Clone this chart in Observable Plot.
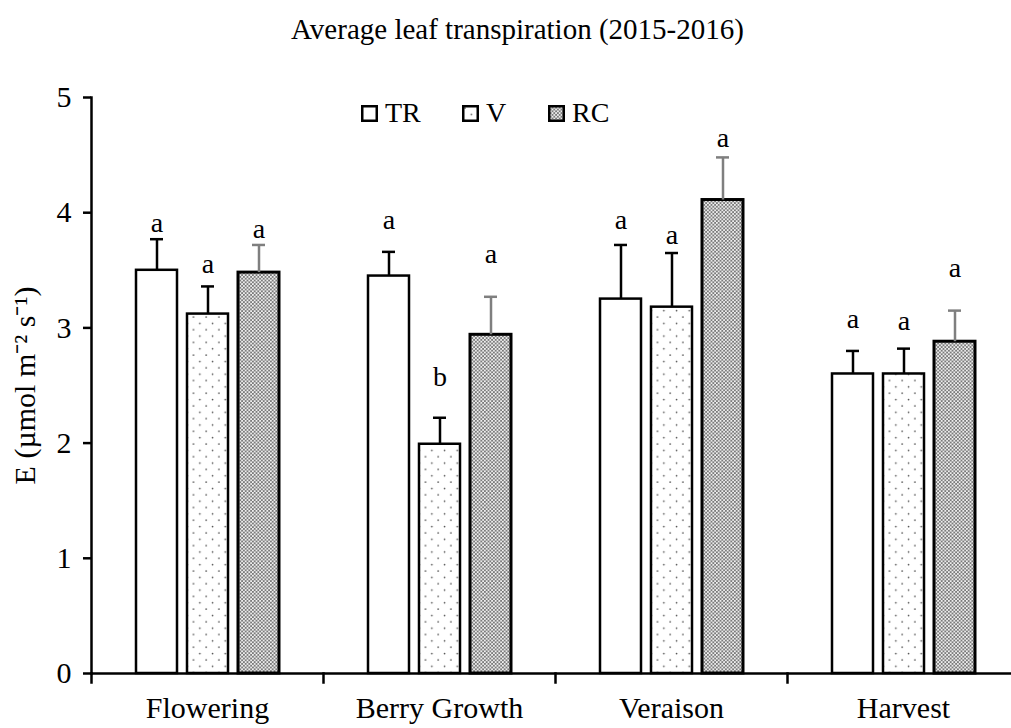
<!DOCTYPE html>
<html>
<head>
<meta charset="utf-8">
<script src="https://cdn.jsdelivr.net/npm/d3@7"></script>
<script src="https://cdn.jsdelivr.net/npm/@observablehq/plot@0.6"></script>
<style>
  html, body { margin: 0; padding: 0; background: #fff; overflow: hidden; width: 1011px; height: 728px; }
  #wrap { position: relative; width: 1011px; height: 728px; overflow: hidden; font-family: "Liberation Serif", serif; color: #000; }
  #title { position: absolute; left: 0; top: 15px; width: 1035px; text-align: center; font-size: 29px; line-height: 28px; }
  #chart { position: absolute; left: 0; top: 60px; width: 1028px; }
  #chart svg { max-width: none !important; }
  .legsq { position: absolute; top: 105px; }
  .legtx { position: absolute; top: 99px; font-size: 28px; line-height: 28px; }
</style>
</head>
<body>
<div id="wrap">
  <div id="title">Average leaf transpiration (2015-2016)</div>
  <div id="chart"></div>
  <div id="legend"></div>
</div>
<script>
// ---- data ----
const stages = ["Flowering", "Berry Growth", "Veraison", "Harvest"];
const treatments = ["TR", "V", "RC"];
const meanTR = [3.50, 3.45, 3.25, 2.60];
const meanV  = [3.12, 1.99, 3.18, 2.60];
const meanRC = [3.48, 2.94, 4.11, 2.88];
const seTR = [0.27, 0.21, 0.47, 0.20];
const seV  = [0.24, 0.23, 0.47, 0.22];
const seRC = [0.24, 0.33, 0.37, 0.27];
const letterTR = ["a", "a", "a", "a"];
const letterV  = ["a", "b", "a", "a"];
const letterRC = ["a", "a", "a", "a"];
// height (in E units) of the baseline of each significance letter
const letterAtTR = [3.83, 3.86, 3.86, 3.00];
const letterAtV  = [3.48, 2.50, 3.73, 2.98];
const letterAtRC = [3.78, 3.56, 4.57, 3.44];
const yTicks = [0, 1, 2, 3, 4, 5];

// ---- styles ----
const fillOf = {TR: "white", V: "url(#patV)", RC: "url(#patRC)"};
const errColor = {TR: "#000", V: "#000", RC: "#7f7f7f"};
const barStrokeW = {TR: 2.5, V: 2.5, RC: 3};

const series = {
  TR: [meanTR, seTR, letterTR, letterAtTR],
  V:  [meanV,  seV,  letterV,  letterAtV],
  RC: [meanRC, seRC, letterRC, letterAtRC]
};
const rows = [];
stages.forEach((s, i) => {
  treatments.forEach(t => {
    const [m, e, l, la] = series[t];
    rows.push({stage: s, treatment: t, mean: m[i], top: m[i] + e[i], letter: l[i], letterAt: la[i]});
  });
});

const chart = Plot.plot({
  width: 1028,
  height: 668,
  marginLeft: 91,
  marginRight: 9,
  marginTop: 37,
  marginBottom: 55,
  style: {fontFamily: '"Liberation Serif", serif', fontSize: "28px", color: "#000", background: "transparent", overflow: "visible", maxWidth: "none"},
  fx: {domain: stages, padding: 0, label: null},
  x: {domain: treatments, paddingInner: 0.204, paddingOuter: 0.854, axis: null},
  y: {domain: [0, 5], axis: null},
  color: {type: "identity"},
  marks: [
    Plot.barY(rows, {fx: "stage", x: "treatment", y: "mean",
      fill: d => fillOf[d.treatment], stroke: "#000", strokeWidth: d => barStrokeW[d.treatment]}),
    Plot.ruleX(rows, {fx: "stage", x: "treatment", y1: "mean", y2: "top",
      stroke: d => errColor[d.treatment], strokeWidth: 2.5}),
    Plot.tickY(rows, {fx: "stage", x: "treatment", y: "top",
      stroke: d => errColor[d.treatment], strokeWidth: 2.5, insetLeft: 14, insetRight: 14}),
    Plot.text(rows, {fx: "stage", x: "treatment", y: "letterAt", text: "letter",
      lineAnchor: "bottom", fontSize: 28}),
    Plot.ruleY([0], {strokeWidth: 2.5}),
    Plot.frame({anchor: "left", facetAnchor: "left", strokeWidth: 2.5}),
    Plot.frame({anchor: "left", insetTop: 576, insetBottom: -9, strokeWidth: 2.5}),
    Plot.axisY({ticks: yTicks, tickSize: 8, tickPadding: 12, strokeWidth: 2.5, fontSize: 30,
      tickFormat: d3.format("d"),
      label: "E (µmol m⁻² s⁻¹)", labelAnchor: "center", labelOffset: 78, labelArrow: "none"}),
    Plot.axisFx({anchor: "bottom", tickSize: 0, tickPadding: 23, fontSize: 30, label: null})
  ]
});

// patterns
const svg = d3.select(chart);
const defs = svg.insert("defs", ":first-child");
const pv = defs.append("pattern").attr("id", "patV").attr("patternUnits", "userSpaceOnUse")
  .attr("width", 12.7).attr("height", 12.7);
pv.append("rect").attr("width", 12.7).attr("height", 12.7).attr("fill", "#fff");
pv.append("circle").attr("cx", 3).attr("cy", 3).attr("r", 0.85).attr("fill", "#555");
pv.append("circle").attr("cx", 9.35).attr("cy", 9.35).attr("r", 0.85).attr("fill", "#555");
const pr = defs.append("pattern").attr("id", "patRC").attr("patternUnits", "userSpaceOnUse")
  .attr("width", 3.6).attr("height", 3.6);
pr.append("rect").attr("width", 3.6).attr("height", 3.6).attr("fill", "#7a7a7a");
pr.append("circle").attr("cx", 0.9).attr("cy", 0.9).attr("r", 0.95).attr("fill", "#fff");
pr.append("circle").attr("cx", 2.7).attr("cy", 2.7).attr("r", 0.95).attr("fill", "#fff");

document.getElementById("chart").appendChild(chart);

// legend (overlaid inside the plot area, as in the reference)
const legendLeft = {TR: 361, V: 462, RC: 548};
const leg = d3.select("#legend");
treatments.forEach(t => {
  const sq = leg.append("svg").attr("class", "legsq").attr("width", 17).attr("height", 17)
    .style("left", legendLeft[t] + "px");
  sq.append("rect").attr("x", 1.25).attr("y", 1.25).attr("width", 14.5).attr("height", 14.5)
    .attr("fill", fillOf[t]).attr("stroke", "#000").attr("stroke-width", 2.5);
  leg.append("div").attr("class", "legtx").style("left", (legendLeft[t] + 24) + "px").text(t);
});
</script>
</body>
</html>
